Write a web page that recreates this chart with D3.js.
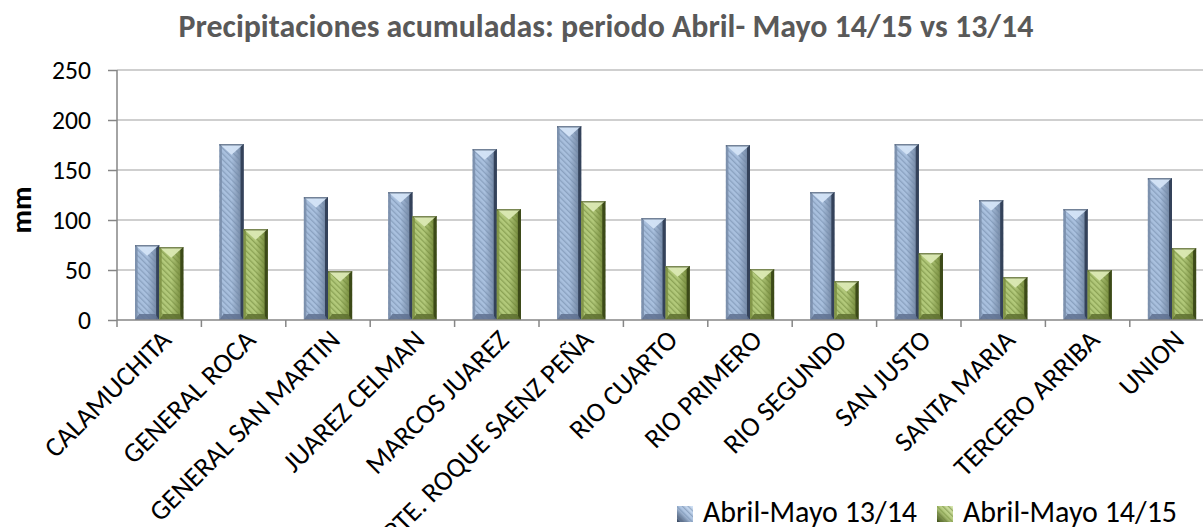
<!DOCTYPE html>
<html>
<head>
<meta charset="utf-8">
<script src="https://cdn.jsdelivr.net/npm/d3@7"></script>
<style>
  html, body { margin: 0; padding: 0; background: #ffffff; }
  svg { display: block; }
</style>
</head>
<body>
<svg id="chart" width="1203" height="527"></svg>
<script>
// ---- data ----
const categories = ["CALAMUCHITA","GENERAL ROCA","GENERAL SAN MARTIN","JUAREZ CELMAN","MARCOS JUAREZ","PTE. ROQUE SAENZ PEÑA","RIO CUARTO","RIO PRIMERO","RIO SEGUNDO","SAN JUSTO","SANTA MARIA","TERCERO ARRIBA","UNION"];
const series1Name = "Abril-Mayo 13/14";
const series2Name = "Abril-Mayo 14/15";
const series1 = [75, 176, 123, 128, 171, 194, 102, 175, 128, 176, 120, 111, 142];
const series2 = [73, 91, 49, 104, 111, 119, 54, 51, 39, 67, 43, 50, 72];
const yTicks = [0, 50, 100, 150, 200, 250];
const titleText = "Precipitaciones acumuladas: periodo Abril- Mayo 14/15 vs 13/14";
const yLabel = "mm";

const FONT = "Carlito, Lato, 'Open Sans', sans-serif";

const svg = d3.select("#chart");
const defs = svg.append("defs");

const plot = { left: 117, top: 70, bottom: 320, step: 84.4 };
const x = d3.scaleBand().domain(categories)
  .range([plot.left, plot.left + plot.step * categories.length]).padding(0);
const xs = d3.scaleBand().domain(["s1","s2"]).range([0, x.bandwidth()]).paddingInner(0).paddingOuter(0.75);
const y = d3.scaleLinear().domain([0, 250]).range([plot.bottom, plot.top]);

function fit(sel, target) {
  const n = sel.node();
  const w = n.getComputedTextLength();
  const fs = parseFloat(sel.attr("font-size"));
  sel.attr("font-size", (fs * target / w).toFixed(2));
}

const palettes = {
  s1: { left: "#7b8fab", mid: "#a9c0de", right: "#34425a", cap: "#d4e4f7", bot: "#5f7190", stripe: "#6f86a6" },
  s2: { left: "#7f9446", mid: "#b2c97a", right: "#3c4a18", cap: "#dbe9b4", bot: "#5e7030", stripe: "#6c8236" }
};
Object.entries(palettes).forEach(([k, p]) => {
  const g = defs.append("linearGradient").attr("id", "grad-" + k).attr("x1", 0).attr("x2", 1).attr("y1", 0).attr("y2", 0);
  g.append("stop").attr("offset", "0%").attr("stop-color", p.left);
  g.append("stop").attr("offset", "12%").attr("stop-color", p.mid);
  g.append("stop").attr("offset", "50%").attr("stop-color", p.mid);
  g.append("stop").attr("offset", "85%").attr("stop-color", p.left);
  g.append("stop").attr("offset", "100%").attr("stop-color", p.right);
  const pat = defs.append("pattern").attr("id", "hatch-" + k).attr("patternUnits", "userSpaceOnUse")
    .attr("width", 4).attr("height", 4).attr("patternTransform", "rotate(-45)");
  pat.append("rect").attr("width", 1.3).attr("height", 4).attr("fill", p.stripe).attr("opacity", 0.55);
  const lg = defs.append("linearGradient").attr("id", "leg-" + k).attr("x1", 0).attr("x2", 1).attr("y1", 1).attr("y2", 0);
  lg.append("stop").attr("offset", "0%").attr("stop-color", p.right);
  lg.append("stop").attr("offset", "50%").attr("stop-color", p.mid);
  lg.append("stop").attr("offset", "100%").attr("stop-color", p.cap);
});

// gridlines
svg.append("g").selectAll("line").data(yTicks.filter(d => d > 0)).join("line")
  .attr("x1", plot.left).attr("x2", 1203)
  .attr("y1", d => y(d)).attr("y2", d => y(d))
  .attr("stroke", "#bfbfbf").attr("stroke-width", 1.5);

// y axis
const yAxis = svg.append("g").attr("transform", `translate(${plot.left},0)`)
  .call(d3.axisLeft(y).tickValues(yTicks).tickSize(9).tickPadding(17));
yAxis.select(".domain").remove();
yAxis.append("line").attr("x1", 0).attr("x2", 0).attr("y1", y(250)).attr("y2", y(0) + 7)
  .attr("stroke", "#868686").attr("stroke-width", 1.5);
yAxis.selectAll(".tick line").attr("stroke", "#868686").attr("stroke-width", 1.5);
yAxis.selectAll(".tick text").attr("font-family", FONT).attr("font-size", 24).attr("fill", "#000");
fit(yAxis.selectAll(".tick text").filter(d => d === 250), 39);
const tfs = yAxis.selectAll(".tick text").filter(d => d === 250).attr("font-size");
yAxis.selectAll(".tick text").attr("font-size", tfs).attr("dy", "0.35em");

// bars
const rows = categories.map((c, i) => ({ c, v: [["s1", series1[i]], ["s2", series2[i]]] }));
const barG = svg.append("g");
rows.forEach(r => {
  r.v.forEach(([k, v]) => {
    const p = palettes[k];
    const bx = x(r.c) + xs(k), bw = xs.bandwidth();
    const top = y(v), bot = y(0), h = bot - top;
    const g = barG.append("g");
    g.append("rect").attr("x", bx).attr("y", top).attr("width", bw).attr("height", h).attr("fill", `url(#grad-${k})`);
    g.append("rect").attr("x", bx).attr("y", top).attr("width", bw).attr("height", h).attr("fill", `url(#hatch-${k})`);
    g.append("rect").attr("x", bx).attr("y", top).attr("width", 2.5).attr("height", h).attr("fill", p.left).attr("opacity", 0.8);
    g.append("rect").attr("x", bx + bw - 3).attr("y", top).attr("width", 3).attr("height", h).attr("fill", p.right);
    const capD = Math.min(bw * 0.45, h);
    g.append("path").attr("d", `M${bx},${top} L${bx + bw},${top} L${bx + bw / 2},${top + capD} Z`)
      .attr("fill", p.cap).attr("opacity", 0.95);
    g.append("rect").attr("x", bx).attr("y", top).attr("width", bw).attr("height", 1.5).attr("fill", p.right).attr("opacity", 0.6);
    const bd = Math.min(6, h);
    g.append("path").attr("d", `M${bx},${bot} L${bx + bw},${bot} L${bx + bw - 4},${bot - bd} L${bx + 4},${bot - bd} Z`)
      .attr("fill", p.bot).attr("opacity", 0.85);
  });
});

// x axis
const xg = svg.append("g");
xg.append("line").attr("x1", plot.left).attr("x2", 1203).attr("y1", y(0)).attr("y2", y(0))
  .attr("stroke", "#868686").attr("stroke-width", 1.5);
xg.selectAll(".xt").data(categories.slice(1)).join("line").attr("class", "xt")
  .attr("x1", d => x(d)).attr("x2", d => x(d)).attr("y1", y(0)).attr("y2", y(0) + 7)
  .attr("stroke", "#868686").attr("stroke-width", 1.5);

// x labels
const xl = svg.append("g").selectAll("text").data(categories).join("text")
  .attr("transform", d => `translate(${x(d) + x.bandwidth() / 2},${y(0) + 8}) rotate(-45)`)
  .attr("text-anchor", "end").attr("dy", "0.7em")
  .attr("font-family", FONT).attr("font-size", 20).attr("fill", "#000")
  .text(d => d);
fit(xl.filter(d => d === "PTE. ROQUE SAENZ PEÑA"), 284);
xl.attr("font-size", xl.filter(d => d === "PTE. ROQUE SAENZ PEÑA").attr("font-size"));

// title
const t = svg.append("text").attr("x", 606).attr("y", 37).attr("text-anchor", "middle")
  .attr("font-family", FONT).attr("font-weight", "bold").attr("font-size", 24).attr("fill", "#595959")
  .text(titleText);
fit(t, 855);

// y label
const yl = svg.append("text").attr("transform", `translate(31,210) rotate(-90)`).attr("text-anchor", "middle")
  .attr("font-family", FONT).attr("font-weight", "900").attr("font-size", 30).attr("fill", "#000")
  .text(yLabel);
fit(yl, 47);

// legend
const legend = svg.append("g");
const legItems = [{ k: "s1", name: series1Name, x: 677 }, { k: "s2", name: series2Name, x: 937 }];
let legFs = null;
legItems.forEach((it, i) => {
  legend.append("rect").attr("x", it.x).attr("y", 506).attr("width", 16).attr("height", 16)
    .attr("fill", `url(#leg-${it.k})`);
  legend.append("rect").attr("x", it.x).attr("y", 506).attr("width", 16).attr("height", 16)
    .attr("fill", `url(#hatch-${it.k})`);
  const lt = legend.append("text").attr("x", it.x + 26).attr("y", 522)
    .attr("font-family", FONT).attr("font-size", 24).attr("fill", "#000").text(it.name);
  if (i === 0) { fit(lt, 214); legFs = lt.attr("font-size"); } else lt.attr("font-size", legFs);
});
</script>
</body>
</html>
